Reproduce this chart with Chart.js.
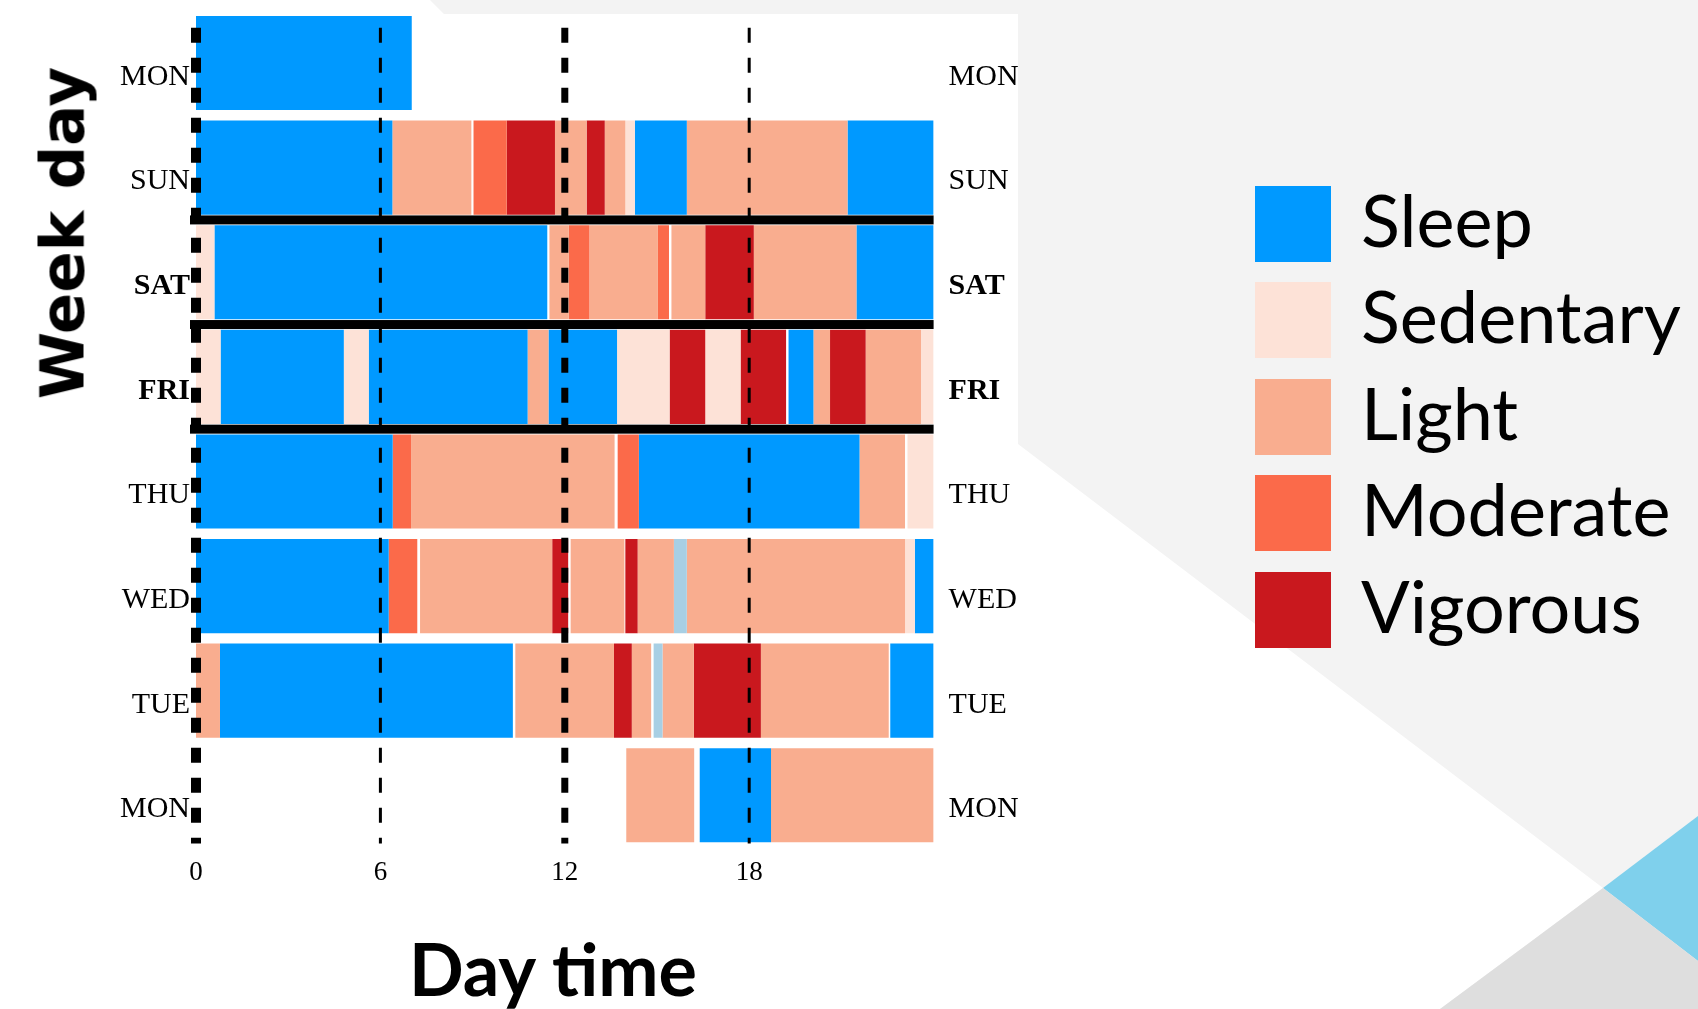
<!DOCTYPE html>
<html>
<head>
<meta charset="utf-8">
<script src="https://cdn.jsdelivr.net/npm/chart.js@4.4.0/dist/chart.umd.min.js"></script>
<style>
    body { margin: 0; width: 1698px; height: 1009px; overflow: hidden; background: #f3f3f3; position: relative; }
    #bg { position: absolute; left: 0; top: 0; }
    #chart { position: absolute; left: 0; top: 0; }
    #ytitle {
        position: absolute; left: 62px; top: 233px;
        transform: translate(-50%, -50%) rotate(-90deg);
        font: bold 61px "DejaVu Sans", sans-serif; white-space: nowrap; color: #000;
    }
    #xtitle {
        position: absolute; left: 553px; top: 968px;
        transform: translate(-50%, -50%);
        font: bold 72px Lato, sans-serif; white-space: nowrap; color: #000;
    }
    #legend { position: absolute; left: 1255px; top: 186px; }
    .lg-item { display: flex; align-items: center; height: 76px; margin-bottom: 20.4px; }
    .lg-box { width: 76px; height: 76px; margin-right: 30px; }
    .lg-text { font: 72px Lato, sans-serif; color: #000; white-space: nowrap; position: relative; top: -5px; }
</style>
</head>
<body>
<svg id="bg" width="1698" height="1009">
    <polygon points="0,0 430,0 444,14 1018,14 1018,444 1603,888 1440,1009 0,1009" fill="#ffffff"/>
    <polygon points="1603,888 1698,816 1698,961" fill="#7fd0ec"/>
    <polygon points="1603,888 1698,961 1698,1009 1440,1009" fill="#dedede"/>
</svg>
<canvas id="chart" width="1060" height="900"></canvas>
<div id="ytitle">Week day</div>
<div id="xtitle">Day time</div>
<div id="legend"></div>

<script>
// rows top to bottom
const dayLabels = ['MON', 'SUN', 'SAT', 'FRI', 'THU', 'WED', 'TUE', 'MON'];
const boldRows = [2, 3];

const activityNames = ['Sleep', 'Sedentary', 'Light', 'Moderate', 'Vigorous', 'Non-wear'];
const activityColors = ['#0099ff', '#fde2d7', '#f9ad8f', '#fb6a4a', '#c9181e', '#a8cfe4'];
const legendNames = ['Sleep', 'Sedentary', 'Light', 'Moderate', 'Vigorous'];

const hourTicks = [0, 6, 12, 18];
// dashed guide lines (hours) and their widths
const guideHours = [0, 6, 12, 18];
const guideWidths = [10, 3, 7, 3];
// thick separators drawn below these row indices
const weekBreaks = [1, 2, 3];

// segments per day: [start hour, end hour, activity]
const monFirst = [[0, 7.02, 'Sleep']];
const sunRow = [
    [0, 6.39, 'Sleep'], [6.39, 8.96, 'Light'], [9.03, 10.11, 'Moderate'], [10.11, 11.68, 'Vigorous'],
    [11.68, 12.71, 'Light'], [12.71, 13.3, 'Vigorous'], [13.3, 13.97, 'Light'], [13.97, 14.28, 'Sedentary'],
    [14.28, 15.97, 'Sleep'], [15.97, 21.2, 'Light'], [21.2, 24, 'Sleep']
];
const satRow = [
    [0, 0.6, 'Sedentary'], [0.6, 11.43, 'Sleep'], [11.5, 12.13, 'Light'], [12.13, 12.8, 'Moderate'],
    [12.8, 15.03, 'Light'], [15.03, 15.39, 'Moderate'], [15.47, 16.57, 'Light'], [16.57, 18.15, 'Vigorous'],
    [18.15, 21.49, 'Light'], [21.49, 24, 'Sleep']
];
const friRow = [
    [0, 0.8, 'Sedentary'], [0.8, 4.81, 'Sleep'], [4.81, 5.62, 'Sedentary'], [5.62, 10.79, 'Sleep'],
    [10.79, 11.47, 'Light'], [11.47, 13.7, 'Sleep'], [13.7, 15.41, 'Sedentary'], [15.41, 16.57, 'Vigorous'],
    [16.57, 17.72, 'Sedentary'], [17.72, 19.2, 'Vigorous'], [19.28, 20.09, 'Sleep'], [20.09, 20.63, 'Light'],
    [20.63, 21.79, 'Vigorous'], [21.79, 23.59, 'Light'], [23.59, 24, 'Sedentary']
];
const thuRow = [
    [0, 6.4, 'Sleep'], [6.4, 7.0, 'Moderate'], [7.0, 13.62, 'Light'], [13.72, 14.41, 'Moderate'],
    [14.41, 21.59, 'Sleep'], [21.59, 23.07, 'Light'], [23.15, 24, 'Sedentary']
];
const wedRow = [
    [0, 6.27, 'Sleep'], [6.27, 7.2, 'Moderate'], [7.29, 11.59, 'Light'], [11.59, 12.11, 'Vigorous'],
    [12.19, 13.94, 'Light'], [13.97, 14.37, 'Vigorous'], [14.37, 15.55, 'Light'], [15.55, 15.97, 'Non-wear'],
    [15.97, 23.07, 'Light'], [23.07, 23.39, 'Sedentary'], [23.39, 24, 'Sleep']
];
const tueRow = [
    [0, 0.78, 'Light'], [0.78, 10.31, 'Sleep'], [10.39, 13.6, 'Light'], [13.6, 14.18, 'Vigorous'],
    [14.18, 14.81, 'Light'], [14.89, 15.18, 'Non-wear'], [15.18, 16.2, 'Light'], [16.2, 18.38, 'Vigorous'],
    [18.38, 22.54, 'Light'], [22.59, 24, 'Sleep']
];
const monLast = [[14.0, 16.21, 'Light'], [16.39, 18.71, 'Sleep'], [18.71, 24, 'Light']];

const rows = [monFirst, sunRow, satRow, friRow, thuRow, wedRow, tueRow, monLast];

function colorOf(name) {
    return activityColors[activityNames.indexOf(name)];
}

// one dataset per segment slot, overlaid on each row
const slotCount = Math.max(...rows.map(r => r.length));
const datasets = [];
for (let j = 0; j < slotCount; j++) {
    datasets.push({
        data: rows.map(r => r[j] ? [r[j][0], r[j][1]] : null),
        backgroundColor: rows.map(r => r[j] ? colorOf(r[j][2]) : 'rgba(0,0,0,0)'),
        borderWidth: 0,
        grouped: false,
        barPercentage: 0.9,
        categoryPercentage: 1.0
    });
}

const serif = '"Liberation Serif", "Times New Roman", serif';

// no extra room for half-labels at the ends of the day axes
const noEndPadding = s => { s.paddingTop = 0; s.paddingBottom = 0; };

const guidePlugin = {
    id: 'guides',
    afterDatasetsDraw(chart) {
        const { ctx, chartArea, scales } = chart;
        const x = scales.x, y = scales.y;
        ctx.save();
        ctx.fillStyle = '#000';
        weekBreaks.forEach(i => {
            const yy = (y.getPixelForValue(i) + y.getPixelForValue(i + 1)) / 2;
            ctx.fillRect(chartArea.left - 6, yy - 4.5, chartArea.right - chartArea.left + 6, 9);
        });
        ctx.strokeStyle = '#000';
        ctx.setLineDash([15, 15]);
        guideHours.forEach((h, k) => {
            const xx = x.getPixelForValue(h);
            ctx.lineWidth = guideWidths[k];
            ctx.beginPath();
            ctx.moveTo(xx, chartArea.top + 17);
            ctx.lineTo(xx, chartArea.bottom - 4);
            ctx.stroke();
        });
        ctx.restore();
    }
};

new Chart(document.getElementById('chart'), {
    type: 'bar',
    data: { labels: dayLabels, datasets: datasets },
    options: {
        indexAxis: 'y',
        responsive: false,
        animation: false,
        layout: { padding: { left: 106, right: 26.4, top: 10.7, bottom: 7.4 } },
        plugins: { legend: { display: false }, tooltip: { enabled: false } },
        scales: {
            x: {
                type: 'linear', min: 0, max: 24,
                afterFit: s => { s.height = 45; },
                afterBuildTicks: s => { s.ticks = hourTicks.map(v => ({ value: v })); },
                ticks: { color: '#000', padding: 9, font: { family: serif, size: 27 } },
                grid: { display: false, drawTicks: false },
                border: { display: false }
            },
            y: {
                type: 'category', position: 'left', offset: true,
                afterFit: s => { s.width = 90; noEndPadding(s); },
                ticks: {
                    color: '#000', padding: 6, labelOffset: 14,
                    font: c => ({ family: serif, size: 30, weight: boldRows.includes(c.index) ? 'bold' : 'normal' })
                },
                grid: { display: false, drawTicks: false },
                border: { display: false }
            },
            y2: {
                type: 'category', position: 'right', offset: true, labels: dayLabels,
                afterFit: s => { s.width = 100; noEndPadding(s); },
                ticks: {
                    color: '#000', padding: 15, labelOffset: 14,
                    font: c => ({ family: serif, size: 30, weight: boldRows.includes(c.index) ? 'bold' : 'normal' })
                },
                grid: { display: false, drawTicks: false },
                border: { display: false }
            }
        }
    },
    plugins: [guidePlugin]
});

// legend from the same names/colours
const legendEl = document.getElementById('legend');
legendNames.forEach(name => {
    const item = document.createElement('div');
    item.className = 'lg-item';
    const box = document.createElement('div');
    box.className = 'lg-box';
    box.style.background = colorOf(name);
    const txt = document.createElement('div');
    txt.className = 'lg-text';
    txt.textContent = name;
    item.appendChild(box);
    item.appendChild(txt);
    legendEl.appendChild(item);
});
</script>
</body>
</html>
